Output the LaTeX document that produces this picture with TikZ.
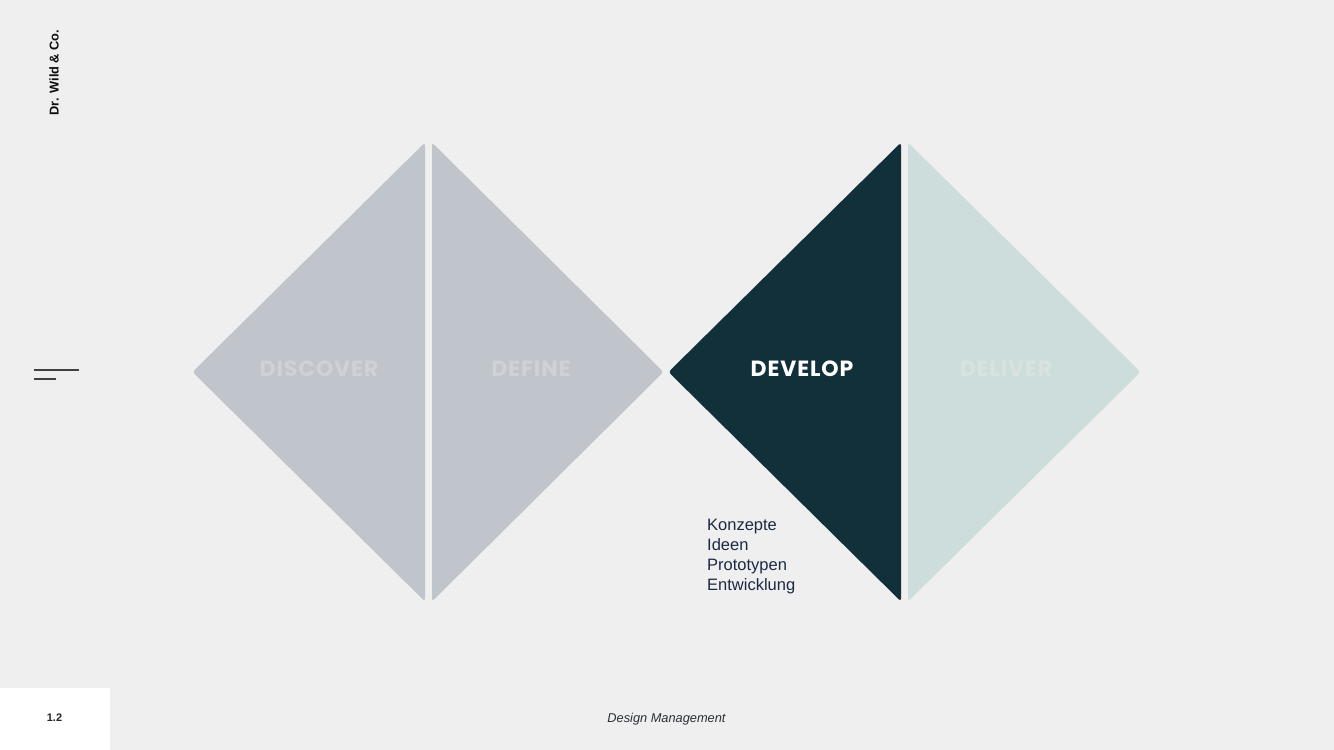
\documentclass[tikz,border=0pt]{standalone}
\usepackage{fontspec}
\setmainfont{Liberation Sans}
\newfontfamily\labfont{Poppins}[LetterSpace=4]
\definecolor{bgc}{HTML}{EFEFEF}
\definecolor{greyc}{HTML}{C0C5CB}
\definecolor{greytxt}{HTML}{CED2D7}
\definecolor{darkc}{HTML}{12303A}
\definecolor{lightc}{HTML}{CDDDDB}
\definecolor{lighttxt}{HTML}{D7E3E1}
\definecolor{inkc}{HTML}{1B2A44}
\definecolor{footc}{HTML}{2A2F35}
\tikzset{
  tri/.style={rounded corners=3pt, draw=none},
  phase/.style={font=\labfont\bfseries\fontsize{22}{26}\selectfont, inner sep=0pt},
  menuline/.style={line width=2pt, color=black!75},
}
\begin{document}
\begin{tikzpicture}[x=1pt,y=-1pt]
\fill[bgc] (0,0) rectangle (1334,750);
\useasboundingbox (0,0) rectangle (1334,750);
% triangles
\fill[greyc,tri] (425,142.5) -- (425,601.5) -- (192.5,372) -- cycle;
\fill[greyc,tri] (432,142.5) -- (663.5,372) -- (432,601.5) -- cycle;
\fill[darkc,tri] (901,142.5) -- (901,601.5) -- (668.5,372) -- cycle;
\fill[lightc,tri] (908,142.5) -- (1140.5,372) -- (908,601.5) -- cycle;
% labels
\node[phase, text=greytxt] (discover) at (319,369) {DISCOVER};
\node[phase, text=greytxt] (define) at (531,369) {DEFINE};
\node[phase, text=white] (develop) at (802,369) {DEVELOP};
\node[phase, text=lighttxt] (deliver) at (1006,369) {DELIVER};
% list
\node[anchor=north west, align=left, text=inkc, inner sep=0pt,
  font=\fontsize{16.5}{20}\selectfont] (list) at (707,519)
  {Konzepte\\Ideen\\Prototypen\\Entwicklung};
% logo
\node[rotate=90, font=\bfseries\fontsize{12.8}{15}\selectfont, text=black!95, inner sep=0pt] (logo) at (54,72.5) {Dr. Wild \& Co.};
% menu lines
\coordinate (m1a) at (34,370); \coordinate (m1b) at (78.5,370);
\coordinate (m2a) at (34,378.5); \coordinate (m2b) at (56,378.5);
\draw[menuline] (m1a) -- (m1b);
\draw[menuline] (m2a) -- (m2b);
% footer
\fill[white] (0,688) rectangle (110,750);
\node[font=\bfseries\fontsize{11}{13}\selectfont, text=black!85] (page) at (54.5,718) {1.2};
\node[font=\itshape\fontsize{12.8}{15}\selectfont, text=footc] (footer) at (666.5,719) {Design Management};
\end{tikzpicture}
\end{document}
